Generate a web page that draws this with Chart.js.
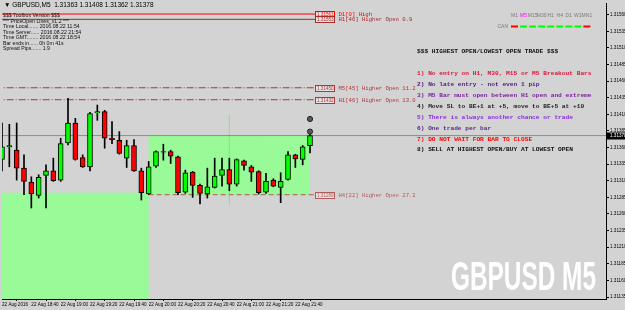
<!DOCTYPE html>
<html><head><meta charset="utf-8">
<script src="https://cdn.jsdelivr.net/npm/chart.js@4/dist/chart.umd.min.js"></script>
<style>html,body{margin:0;padding:0;background:#d3d3d3;overflow:hidden}canvas{display:block}</style>
</head><body><canvas id="c" width="625" height="310"></canvas>
<script>
// ---- data (GBPUSD M5, 22 Aug 2016, 18:20 .. 21:50) ----
const opens  = [1.31342,1.31361,1.31356,1.31329,1.31308,1.31288,1.31318,1.31325,1.31311,1.31367,1.31397,1.31345,1.31331,1.31412,1.31414,1.31374,1.31371,1.31344,1.31363,1.31325,1.31290,1.31332,1.31354,1.31354,1.31346,1.31293,1.31323,1.31303,1.31290,1.31300,1.31318,1.31327,1.31305,1.31340,1.31331,1.31324,1.31293,1.31311,1.31300,1.31312,1.31349,1.31342,1.31363];
const highs  = [1.31397,1.31395,1.31397,1.31349,1.31316,1.31319,1.31334,1.31344,1.31374,1.31434,1.31404,1.31349,1.31413,1.31424,1.31416,1.31399,1.31384,1.31371,1.31372,1.31329,1.31339,1.31355,1.31365,1.31356,1.31347,1.31326,1.31324,1.31305,1.31329,1.31344,1.31344,1.31344,1.31343,1.31341,1.31333,1.31325,1.31321,1.31313,1.31322,1.31354,1.31350,1.31363,1.31386];
const lows   = [1.31325,1.31331,1.31311,1.31289,1.31269,1.31284,1.31269,1.31309,1.31309,1.31364,1.31341,1.31330,1.31325,1.31401,1.31359,1.31366,1.31350,1.31330,1.31324,1.31281,1.31289,1.31330,1.31341,1.31336,1.31289,1.31291,1.31285,1.31275,1.31284,1.31299,1.31302,1.31295,1.31302,1.31326,1.31309,1.31290,1.31291,1.31301,1.31277,1.31311,1.31330,1.31334,1.31352];
const closes = [1.31361,1.31363,1.31329,1.31309,1.31290,1.31315,1.31325,1.31310,1.31366,1.31397,1.31342,1.31331,1.31411,1.31414,1.31374,1.31372,1.31351,1.31363,1.31325,1.31292,1.31331,1.31354,1.31353,1.31347,1.31292,1.31322,1.31303,1.31291,1.31301,1.31317,1.31327,1.31305,1.31342,1.31333,1.31323,1.31292,1.31309,1.31302,1.31309,1.31349,1.31343,1.31361,1.31378];

const xTickIndex  = [0,4,8,12,16,20,24,28,32,36,40];
const xTickLabels = ['22 Aug 2016','22 Aug 18:40','22 Aug 19:00','22 Aug 19:20','22 Aug 19:40','22 Aug 20:00','22 Aug 20:20','22 Aug 20:40','22 Aug 21:00','22 Aug 21:20','22 Aug 21:40'];
const yTicks = [1.31135,1.31160,1.31185,1.31210,1.31235,1.31260,1.31285,1.31310,1.31335,1.31360,1.31385,1.31410,1.31435,1.31460,1.31485,1.31510,1.31535,1.31560];

const levelNames  = ['D1[0] High','H1[46] Higher Open 0.9','M5[45] Higher Open 11.2','H1[46] Higher Open 13.0','H4[22] Higher Open 27.2'];
const levelPrices = [1.31561,1.31553,1.31450,1.31432,1.31289];
const levelFrom   = [-1,-1,-1,-1,20];
const levelTo     = 42.7;
const currentPrice = 1.31378;

const zoneFrom = [-1,20];
const zoneTo   = [20,42];
const zoneLow  = [1.31100,1.31289];
const zoneHigh = [1.31292,1.31378];
const markerBar = 31, markerLow = 1.31274, markerHigh = 1.31409;
const signalBar = 42, signalPrices = [1.31403,1.31384];

const titleText = '\u25BC GBPUSD,M5  1.31363 1.31408 1.31362 1.31378';
const infoLines = ['$$$ Toolbox Version $$$','*** PriceOpen Lines_v1.2 ***','Time Local....... 2016.08.22 11:54','Time Server...... 2016.08.22 21:54','Time GMT........ 2016.08.22 18:54','Bar ends in...... 0h 0m 41s','Spread Pips....... 1.9'];
const rulesTitle = '$$$ HIGHEST OPEN/LOWEST OPEN TRADE $$$';
const rules = ['1) No entry on H1, M30, M15 or M5 Breakout Bars','2) No late entry - not even 1 pip','3) M5 Bar must open between H1 open and extreme','4) Move SL to BE+1 at +5, move to BE+5 at +10','5) There is always another chance or trade','6) One trade per bar','7) DO NOT WAIT FOR BAR TO CLOSE','8) SELL AT HIGHEST OPEN/BUY AT LOWEST OPEN'];
const tfNames = ['M1','M5','M15','M30','H1','H4','D1','W1','MN1'];
const tfUp    = [false,true,true,true,true,true,true,true,false];
const watermark = 'GBPUSD M5';

// ---- styles ----
const levelColors = ['#ff0000','#a52a2a','#b03535','#b03535','#b05a5a'];
const levelDash   = [[],[],[7,2,1,2],[7,2,1,2],[5,3]];
const ruleColors  = ['#dc143c','#4b1a7a','#7b1fa2','#222222','#8a2be2','#5b2a86','#ff0000','#111111'];

const idx = opens.map((_, i) => i);
const up = idx.map(i => closes[i] >= opens[i]);

const datasets = [
  { type:'scatter', data: signalPrices.map(p => ({x:signalBar, y:p})), pointRadius:2.6, pointHoverRadius:0, pointBackgroundColor:'#5a5a5a', pointBorderColor:'#222', pointBorderWidth:1, order:0 },
  { type:'bar', data: idx.map(i => ({x:i, y:[opens[i], closes[i]]})), backgroundColor: up.map(u => u ? '#00ff00' : '#ff0000'), borderColor:'#000', borderWidth:1, borderSkipped:false, barThickness:5, grouped:false, order:1 },
  { type:'bar', data: idx.map(i => ({x:i, y:[lows[i], highs[i]]})), backgroundColor:'#000', borderWidth:0, barThickness:1, grouped:false, order:2 },
  { type:'line', data:[{x:-1,y:currentPrice},{x:200,y:currentPrice}], borderColor:'#8c8c8c', borderWidth:1, pointRadius:0, order:5 },
  { type:'line', data:[{x:markerBar,y:markerLow},{x:markerBar,y:markerHigh}], borderColor:'#7ee87e', borderWidth:1, pointRadius:0, order:6 }
];
levelPrices.forEach((p, k) => {
  datasets.push({ type:'line', data:[{x:levelFrom[k], y:p},{x:levelTo, y:p}], borderColor:levelColors[k], borderDash:levelDash[k], borderWidth:1, pointRadius:0, order:3 });
});

const decor = {
  id:'decor',
  beforeDatasetsDraw(chart) {
    const {ctx, chartArea:a, scales:{x, y}} = chart;
    ctx.save();
    ctx.beginPath(); ctx.rect(a.left, a.top, a.right - a.left, a.bottom - a.top); ctx.clip();
    ctx.fillStyle = '#98fb98';
    zoneFrom.forEach((f, k) => {
      const x0 = x.getPixelForValue(f), x1 = x.getPixelForValue(zoneTo[k]);
      const y0 = y.getPixelForValue(zoneHigh[k]), y1 = y.getPixelForValue(zoneLow[k]);
      ctx.fillRect(x0, y0, x1 - x0, y1 - y0);
    });
    ctx.restore();
  },
  afterDraw(chart) {
    const {ctx, chartArea:a, scales:{x, y}} = chart;
    ctx.save();
    ctx.textBaseline = 'middle';
    // title
    ctx.fillStyle = '#000'; ctx.font = '6.5px "Liberation Sans"'; ctx.textAlign = 'left';
    ctx.fillText(titleText, 4, 5);
    // info block
    ctx.font = '5.2px "Liberation Sans"'; ctx.fillStyle = '#111';
    infoLines.forEach((t, i) => ctx.fillText(t, 3, 16 + i * 5.5));
    // level boxes + labels
    levelPrices.forEach((p, k) => {
      const py = Math.round(y.getPixelForValue(p)) + 0.5;
      const bx = Math.round(x.getPixelForValue(levelTo)) + 0.5;
      ctx.fillStyle = '#e4e4e4'; ctx.fillRect(bx, py - 3, 19, 6);
      ctx.strokeStyle = levelColors[k]; ctx.lineWidth = 1; ctx.strokeRect(bx, py - 3, 19, 6);
      ctx.fillStyle = levelColors[k]; ctx.font = '4.6px "Liberation Sans"';
      ctx.fillText(p.toFixed(5), bx + 1.5, py);
      ctx.font = '5.6px "Liberation Mono"';
      ctx.fillText(levelNames[k], bx + 23, py);
    });
    // rules
    ctx.font = 'bold 6.2px "Liberation Mono"'; ctx.fillStyle = '#111';
    ctx.fillText(rulesTitle, 417, 51);
    const ruleY = [73, 84, 95, 106, 117, 128, 139, 149.5];
    rules.forEach((t, i) => { ctx.fillStyle = ruleColors[i]; ctx.fillText(t, 417, ruleY[i]); });
    // timeframe panel
    ctx.font = '5px "Liberation Sans"'; ctx.textAlign = 'center';
    tfNames.forEach((n, i) => {
      const cx = 514.5 + i * 9.05;
      ctx.fillStyle = i === 1 ? '#ff00ff' : '#7a7a7a';
      ctx.fillText(n, cx, 16);
      ctx.fillStyle = tfUp[i] ? '#00ff00' : '#ff0000';
      ctx.fillRect(cx - 3.5, 25.5, 7, 2);
    });
    ctx.fillStyle = '#7a7a7a'; ctx.textAlign = 'right';
    ctx.fillText('CAN', 508, 26.5);
    // watermark
    ctx.font = 'bold 40px "Liberation Sans"'; ctx.textAlign = 'left'; ctx.textBaseline = 'alphabetic';
    const w = ctx.measureText(watermark).width;
    ctx.save(); ctx.translate(451, 290); ctx.scale(145 / w, 1);
    ctx.fillStyle = '#ffffff'; ctx.fillText(watermark, 0, 0); ctx.restore();
    // current price tag
    const cy = Math.round(y.getPixelForValue(currentPrice));
    ctx.fillStyle = '#000'; ctx.fillRect(a.right, cy - 3.5, 625 - a.right, 7);
    ctx.fillStyle = '#fff'; ctx.font = '4.6px "Liberation Sans"'; ctx.textBaseline = 'middle';
    ctx.fillText(currentPrice.toFixed(5), a.right + 4, cy);
    ctx.restore();
  }
};

new Chart(document.getElementById('c'), {
  type:'bar',
  data:{ datasets },
  plugins:[decor],
  options:{
    responsive:false, animation:false, events:[],
    layout:{ autoPadding:false, padding:{ left:2, top:3, right:0, bottom:0 } },
    plugins:{ legend:{display:false}, tooltip:{enabled:false} },
    scales:{
      x:{ type:'linear', position:'bottom', min:0, max:82.36, offset:false,
          afterBuildTicks(s){ s.ticks = xTickIndex.map(v => ({value:v})); },
          afterFit(s){ s.height = 11; s.paddingLeft = 0; s.paddingRight = 0; },
          grid:{ drawOnChartArea:false, drawTicks:true, tickLength:2, color:'#000' },
          border:{ display:true, color:'#000' },
          ticks:{ align:'start', autoSkip:false, maxRotation:0, padding:1, color:'#000', font:{ family:'Liberation Sans', size:4.6 },
                  callback(v){ const k = xTickIndex.indexOf(v); return k >= 0 ? xTickLabels[k] : ''; } } },
      y:{ type:'linear', position:'right', min:1.31132, max:1.315776,
          afterBuildTicks(s){ s.ticks = yTicks.map(v => ({value:v})); },
          afterFit(s){ s.width = 19; s.paddingTop = 0; s.paddingBottom = 0; },
          grid:{ drawOnChartArea:false, drawTicks:true, tickLength:3, color:'#000' },
          border:{ display:true, color:'#000' },
          ticks:{ padding:1, color:'#000', font:{ family:'Liberation Sans', size:4.6 }, callback(v){ return v.toFixed(5); } } }
    }
  }
});
</script></body></html>
